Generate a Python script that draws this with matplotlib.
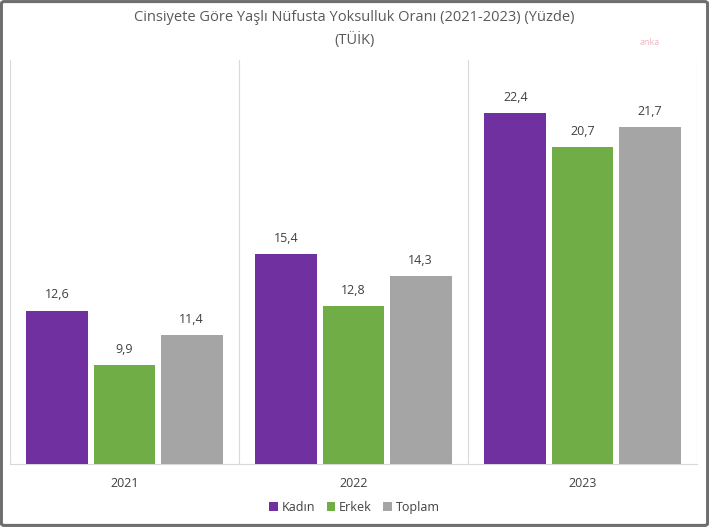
import matplotlib
matplotlib.use("Agg")
import matplotlib.pyplot as plt
import numpy as np
from matplotlib.patches import FancyBboxPatch

plt.rcParams['font.family'] = ['Open Sans', 'DejaVu Sans']

# data
years = ['2021', '2022', '2023']
kadin = [12.6, 15.4, 22.4]
erkek = [9.9, 12.8, 20.7]
toplam = [11.4, 14.3, 21.7]
series_names = ['Kadın', 'Erkek', 'Toplam']
colors = ['#7030A0', '#70AD47', '#A5A5A5']
text_color = '#595959'

fig = plt.figure(figsize=(7.09, 5.27), dpi=100)
ax = fig.add_axes([0.0141, 0.1195, 0.969, 0.7665])

x = np.arange(len(years))
width = 0.27
offsets = [-0.293, 0.0, 0.293]
for vals, name, col, off in zip([kadin, erkek, toplam], series_names, colors, offsets):
    # bars start at the axis floor (5) like the original
    ax.bar(x + off, np.array(vals) - 5, width, bottom=5, color=col, label=name, zorder=3)
    for xi, v in zip(x + off, vals):
        ax.text(xi, v + 0.45, f"{v:.1f}".replace('.', ','), ha='center', va='bottom',
                fontsize=9, color='#404040')

ax.set_ylim(5, 25)
ax.set_xlim(-0.5, 2.5)
ax.set_yticks([])
ax.set_xticks(x)
ax.set_xticklabels(years, fontsize=9, color='#404040')
ax.tick_params(axis='x', length=0, pad=9)

# vertical separators between groups
for xv in [-0.5, 0.5, 1.5, 2.5]:
    ax.axvline(xv, color='#D9D9D9', linewidth=0.8, zorder=1)
for side in ['top', 'left', 'right']:
    ax.spines[side].set_visible(False)
ax.spines['bottom'].set_color('#D9D9D9')
ax.spines['bottom'].set_linewidth(0.8)

fig.text(0.5, 0.967, 'Cinsiyete Göre Yaşlı Nüfusta Yoksulluk Oranı (2021-2023) (Yüzde)',
         ha='center', va='center', fontsize=10.5, color=text_color)
fig.text(0.5, 0.924, '(TÜİK)', ha='center', va='center', fontsize=10.5, color=text_color)

# watermark
fig.text(0.917, 0.919, 'anka', ha='center', va='center', fontsize=6.5, color='#F4B6C2')

leg = fig.legend(loc='center', bbox_to_anchor=(0.5, 0.037), ncol=3, frameon=False,
                 fontsize=9, handlelength=0.7, handleheight=0.7, handletextpad=0.3,
                 columnspacing=0.9)
for t in leg.get_texts():
    t.set_color('#404040')

# chart border
border = FancyBboxPatch((0.002, 0.003), 0.996, 0.994, boxstyle='round,pad=0,rounding_size=0.004',
                        transform=fig.transFigure, fill=False, edgecolor='#6E6E6E', linewidth=2.2)
fig.patches.append(border)

fig.savefig('out.png', dpi=100)
